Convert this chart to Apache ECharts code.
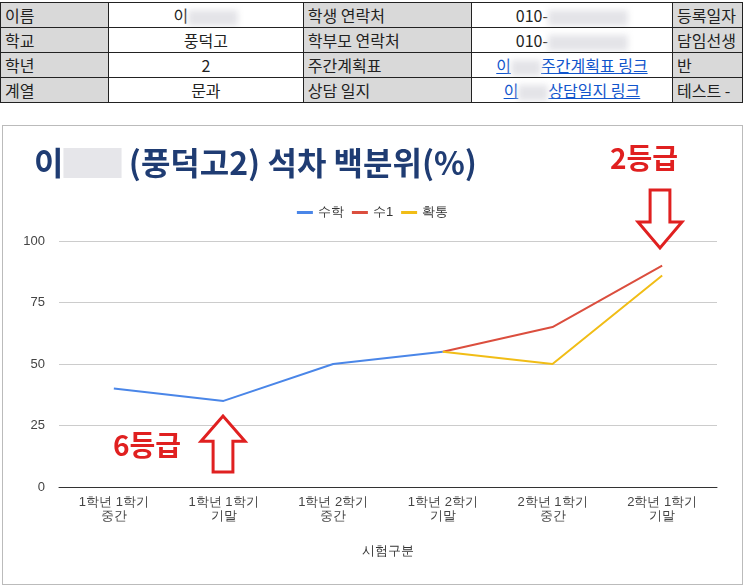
<!DOCTYPE html>
<html><head><meta charset="utf-8">
<script src="https://cdn.jsdelivr.net/npm/echarts@6/dist/echarts.min.js"></script>
<style>
body{margin:0;width:743px;height:585px;overflow:hidden;background:#fff;font-family:"Noto Sans CJK KR",sans-serif;position:relative}
table{position:absolute;left:0;top:2px;border-collapse:collapse;table-layout:fixed;font-size:16px}
td{border:1px solid #222;height:24px;padding:0 4px;white-space:nowrap;overflow:hidden;color:#222}
td.h{background:#d9d9d9}
td.c{text-align:center}
a{color:#1155cc;text-decoration:underline}
.blur{display:inline-block;width:50px;height:16px;background:#e4e4e8;filter:blur(3px);vertical-align:middle}
#chart{position:absolute;left:2px;top:125px;width:741px;height:460px;border:1px solid #bbb;box-sizing:border-box}
</style></head><body>
<table>
<colgroup><col style="width:111px"><col style="width:200px"><col style="width:171px"><col style="width:203px"><col style="width:70px"></colgroup>
<tr><td class="h">이름</td><td class="c">이<span class="blur"></span></td><td class="h">학생 연락처</td><td class="c">010-<span class="blur" style="width:80px"></span></td><td class="h">등록일자</td></tr>
<tr><td class="h">학교</td><td class="c">풍덕고</td><td class="h">학부모 연락처</td><td class="c">010-<span class="blur" style="width:80px"></span></td><td class="h">담임선생</td></tr>
<tr><td class="h">학년</td><td class="c">2</td><td class="h">주간계획표</td><td class="c"><a>이<span class="blur" style="width:30px"></span>주간계획표 링크</a></td><td class="h">반</td></tr>
<tr><td class="h">계열</td><td class="c">문과</td><td class="h">상담 일지</td><td class="c"><a>이<span class="blur" style="width:30px"></span>상담일지 링크</a></td><td class="h">테스트 -</td></tr>
</table>
<div id="chart"></div>
<script>
const categories=["1학년 1학기\n중간","1학년 1학기\n기말","1학년 2학기\n중간","1학년 2학기\n기말","2학년 1학기\n중간","2학년 1학기\n기말"];
const math=[40,35,50,55,null,null];
const su1=[null,null,null,55,65,90];
const hwak=[null,null,null,55,50,86];
const yTicks=[0,25,50,75,100];
const c=echarts.init(document.getElementById('chart'));
function arrow(x,y,w,h,up){
  const sw=w*0.45, hh=h*0.45;
  let p;
  if(!up) p=[[x-sw/2,y],[x+sw/2,y],[x+sw/2,y+h-hh],[x+w/2,y+h-hh],[x,y+h],[x-w/2,y+h-hh],[x-sw/2,y+h-hh]];
  else p=[[x-sw/2,y+h],[x+sw/2,y+h],[x+sw/2,y+hh],[x+w/2,y+hh],[x,y],[x-w/2,y+hh],[x-sw/2,y+hh]];
  return {type:'polygon',shape:{points:p},style:{fill:'#fff',stroke:'#e02020',lineWidth:3},z:10};
}
c.setOption({
  animation:false,
  title:{text:'이{b|        } (풍덕고2) 석차 백분위(%)',left:26,top:16,textStyle:{fontSize:32,fontWeight:'bold',color:'#1f3c73',fontFamily:'Noto Sans CJK KR',rich:{b:{backgroundColor:'#e6e6ea',height:30,fontSize:32}}}},
  legend:{top:75,left:'center',itemWidth:16,itemHeight:3,icon:'rect',textStyle:{fontSize:13,color:'#333'},data:['수학','수1','확통']},
  grid:{left:56,right:25,top:115,bottom:97},
  xAxis:{type:'category',data:categories,boundaryGap:true,name:'시험구분',nameLocation:'middle',nameGap:58,nameTextStyle:{fontSize:13,color:'#333'},
    axisLine:{lineStyle:{color:'#333'}},axisTick:{show:false},axisLabel:{fontSize:13,color:'#444',lineHeight:14,interval:0}},
  yAxis:{type:'value',min:0,max:100,interval:25,axisLine:{show:false},axisTick:{show:false},
    axisLabel:{fontSize:13,color:'#444',margin:14},splitLine:{lineStyle:{color:'#ccc'}}},
  series:[
    {name:'수학',type:'line',data:math,symbol:'none',lineStyle:{color:'#4a86e8',width:2},itemStyle:{color:'#4a86e8'}},
    {name:'수1',type:'line',data:su1,symbol:'none',lineStyle:{color:'#db4e3e',width:2},itemStyle:{color:'#db4e3e'}},
    {name:'확통',type:'line',data:hwak,symbol:'none',lineStyle:{color:'#f1bd16',width:2},itemStyle:{color:'#f1bd16'}}
  ],
  graphic:[
    {type:'text',left:607,top:18,style:{text:'2등급',fontSize:28,fontWeight:'bold',fill:'#e02020',fontFamily:'Noto Sans CJK KR'},z:10},
    arrow(657,64,44,58,false),
    {type:'text',left:110,top:305,style:{text:'6등급',fontSize:28,fontWeight:'bold',fill:'#e02020',fontFamily:'Noto Sans CJK KR'},z:10},
    arrow(220,290,44,56,true)
  ]
});
</script>
</body></html>
